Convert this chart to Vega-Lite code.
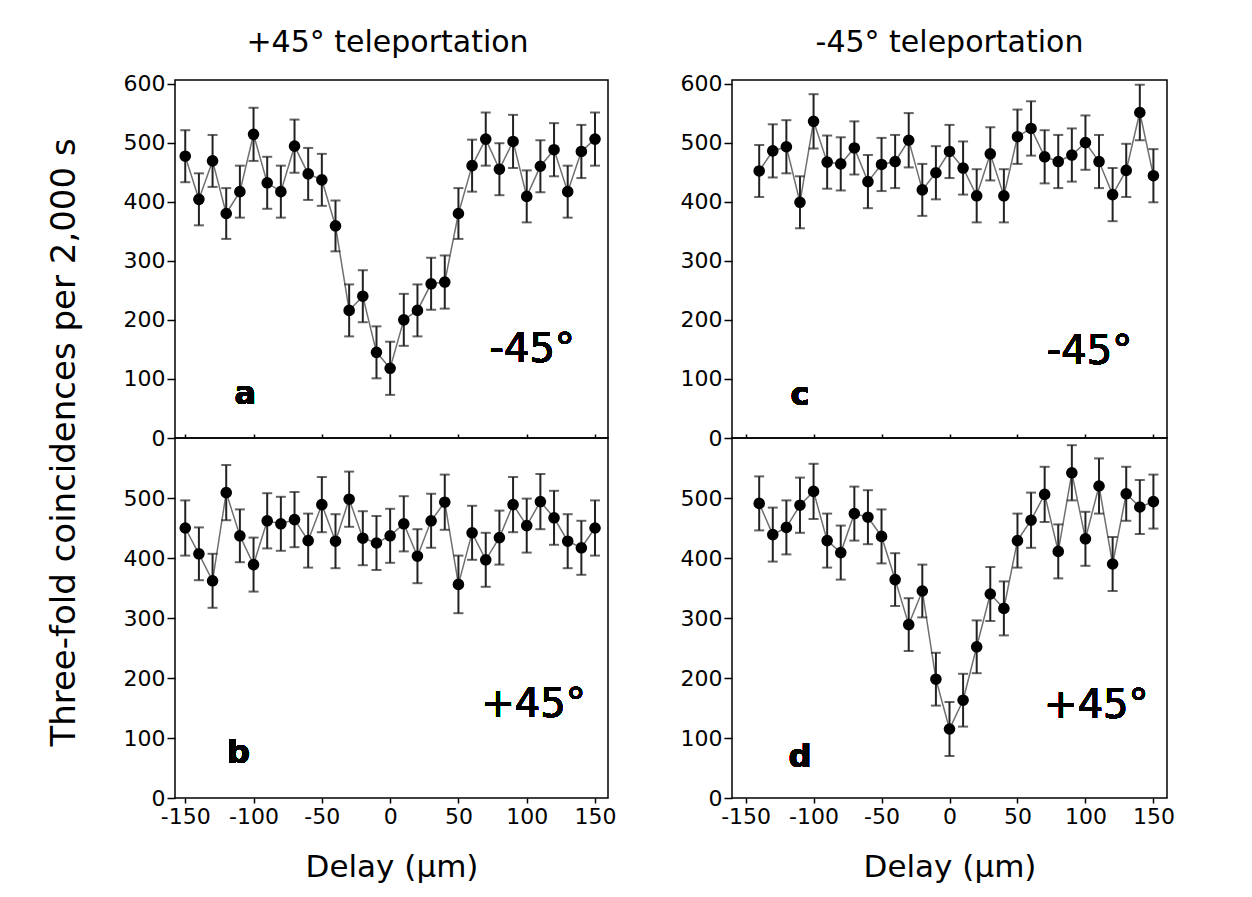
{
  "$schema": "https://vega.github.io/schema/vega-lite/v6.json",
  "background": "white",
  "padding": {"left": 46, "top": 26, "right": 10, "bottom": 10},
  "data": {"values": [
    {"panel":"a","delay":-150,"count":477,"err":44},{"panel":"a","delay":-140,"count":404,"err":44},{"panel":"a","delay":-130,"count":469,"err":44},{"panel":"a","delay":-120,"count":380,"err":43},{"panel":"a","delay":-110,"count":417,"err":44},{"panel":"a","delay":-100,"count":514,"err":45},{"panel":"a","delay":-90,"count":432,"err":44},{"panel":"a","delay":-80,"count":417,"err":44},{"panel":"a","delay":-70,"count":494,"err":45},{"panel":"a","delay":-60,"count":447,"err":44},{"panel":"a","delay":-50,"count":437,"err":44},{"panel":"a","delay":-40,"count":359,"err":43},{"panel":"a","delay":-30,"count":216,"err":44},{"panel":"a","delay":-20,"count":240,"err":44},{"panel":"a","delay":-10,"count":145,"err":44},{"panel":"a","delay":0,"count":118,"err":45},{"panel":"a","delay":10,"count":200,"err":44},{"panel":"a","delay":20,"count":216,"err":44},{"panel":"a","delay":30,"count":261,"err":44},{"panel":"a","delay":40,"count":264,"err":45},{"panel":"a","delay":50,"count":380,"err":43},{"panel":"a","delay":60,"count":461,"err":44},{"panel":"a","delay":70,"count":506,"err":45},{"panel":"a","delay":80,"count":455,"err":44},{"panel":"a","delay":90,"count":502,"err":45},{"panel":"a","delay":100,"count":409,"err":44},{"panel":"a","delay":110,"count":460,"err":44},{"panel":"a","delay":120,"count":488,"err":45},{"panel":"a","delay":130,"count":417,"err":44},{"panel":"a","delay":140,"count":485,"err":45},{"panel":"a","delay":150,"count":506,"err":45},
    {"panel":"b","delay":-150,"count":450,"err":46},{"panel":"b","delay":-140,"count":407,"err":44},{"panel":"b","delay":-130,"count":362,"err":45},{"panel":"b","delay":-120,"count":509,"err":46},{"panel":"b","delay":-110,"count":437,"err":44},{"panel":"b","delay":-100,"count":389,"err":45},{"panel":"b","delay":-90,"count":462,"err":46},{"panel":"b","delay":-80,"count":457,"err":45},{"panel":"b","delay":-70,"count":464,"err":46},{"panel":"b","delay":-60,"count":429,"err":45},{"panel":"b","delay":-50,"count":489,"err":46},{"panel":"b","delay":-40,"count":428,"err":45},{"panel":"b","delay":-30,"count":498,"err":46},{"panel":"b","delay":-20,"count":433,"err":45},{"panel":"b","delay":-10,"count":425,"err":45},{"panel":"b","delay":0,"count":437,"err":45},{"panel":"b","delay":10,"count":457,"err":46},{"panel":"b","delay":20,"count":403,"err":45},{"panel":"b","delay":30,"count":462,"err":45},{"panel":"b","delay":40,"count":493,"err":46},{"panel":"b","delay":50,"count":356,"err":48},{"panel":"b","delay":60,"count":442,"err":45},{"panel":"b","delay":70,"count":397,"err":45},{"panel":"b","delay":80,"count":434,"err":45},{"panel":"b","delay":90,"count":489,"err":46},{"panel":"b","delay":100,"count":454,"err":45},{"panel":"b","delay":110,"count":494,"err":46},{"panel":"b","delay":120,"count":467,"err":45},{"panel":"b","delay":130,"count":428,"err":45},{"panel":"b","delay":140,"count":417,"err":45},{"panel":"b","delay":150,"count":450,"err":46},
    {"panel":"c","delay":-140,"count":452,"err":44},{"panel":"c","delay":-130,"count":486,"err":45},{"panel":"c","delay":-120,"count":493,"err":45},{"panel":"c","delay":-110,"count":399,"err":44},{"panel":"c","delay":-100,"count":536,"err":46},{"panel":"c","delay":-90,"count":467,"err":45},{"panel":"c","delay":-80,"count":464,"err":45},{"panel":"c","delay":-70,"count":491,"err":45},{"panel":"c","delay":-60,"count":434,"err":45},{"panel":"c","delay":-50,"count":463,"err":45},{"panel":"c","delay":-40,"count":468,"err":45},{"panel":"c","delay":-30,"count":504,"err":46},{"panel":"c","delay":-20,"count":420,"err":44},{"panel":"c","delay":-10,"count":449,"err":45},{"panel":"c","delay":0,"count":485,"err":45},{"panel":"c","delay":10,"count":457,"err":45},{"panel":"c","delay":20,"count":410,"err":45},{"panel":"c","delay":30,"count":481,"err":45},{"panel":"c","delay":40,"count":410,"err":45},{"panel":"c","delay":50,"count":510,"err":46},{"panel":"c","delay":60,"count":524,"err":46},{"panel":"c","delay":70,"count":476,"err":45},{"panel":"c","delay":80,"count":468,"err":45},{"panel":"c","delay":90,"count":479,"err":45},{"panel":"c","delay":100,"count":500,"err":46},{"panel":"c","delay":110,"count":468,"err":45},{"panel":"c","delay":120,"count":412,"err":45},{"panel":"c","delay":130,"count":453,"err":45},{"panel":"c","delay":140,"count":551,"err":47},{"panel":"c","delay":150,"count":444,"err":45},
    {"panel":"d","delay":-140,"count":491,"err":45},{"panel":"d","delay":-130,"count":439,"err":45},{"panel":"d","delay":-120,"count":451,"err":45},{"panel":"d","delay":-110,"count":488,"err":46},{"panel":"d","delay":-100,"count":511,"err":46},{"panel":"d","delay":-90,"count":429,"err":45},{"panel":"d","delay":-80,"count":409,"err":45},{"panel":"d","delay":-70,"count":474,"err":45},{"panel":"d","delay":-60,"count":468,"err":45},{"panel":"d","delay":-50,"count":436,"err":45},{"panel":"d","delay":-40,"count":364,"err":44},{"panel":"d","delay":-30,"count":289,"err":44},{"panel":"d","delay":-20,"count":345,"err":44},{"panel":"d","delay":-10,"count":198,"err":44},{"panel":"d","delay":0,"count":115,"err":45},{"panel":"d","delay":10,"count":163,"err":44},{"panel":"d","delay":20,"count":252,"err":44},{"panel":"d","delay":30,"count":340,"err":45},{"panel":"d","delay":40,"count":316,"err":45},{"panel":"d","delay":50,"count":429,"err":45},{"panel":"d","delay":60,"count":463,"err":46},{"panel":"d","delay":70,"count":506,"err":46},{"panel":"d","delay":80,"count":411,"err":45},{"panel":"d","delay":90,"count":542,"err":46},{"panel":"d","delay":100,"count":432,"err":45},{"panel":"d","delay":110,"count":520,"err":46},{"panel":"d","delay":120,"count":390,"err":45},{"panel":"d","delay":130,"count":507,"err":45},{"panel":"d","delay":140,"count":485,"err":45},{"panel":"d","delay":150,"count":494,"err":45}
  ]},
  "spacing": 62,
  "hconcat": [
    {
      "spacing": 0,
      "bounds": "flush",
      "vconcat": [
        {
          "width": 433, "height": 358,
          "title": {"text": "+45° teleportation", "anchor": "middle", "frame": "group", "font": "DejaVu Sans", "fontSize": 30, "fontWeight": "normal", "color": "black", "offset": 15, "dx": -4},
          "transform": [{"filter": "datum.panel == 'a'"}],
          "encoding": {
            "x": {"field": "delay", "type": "quantitative", "scale": {"domain": [-157.5, 159.5], "nice": false, "zero": false}, "axis": {"values": [-150, -100, -50, 0, 50, 100, 150], "labels": false, "tickSize": -4, "title": null}},
            "y": {"field": "count", "type": "quantitative", "scale": {"domain": [0, 606], "nice": false}, "axis": {"values": [0, 100, 200, 300, 400, 500, 600], "tickSize": 8, "labelPadding": 2, "title": "Three-fold coincidences per 2,000 s", "titleFontSize": 34, "titleY": 362, "titlePadding": 42}}
          },
          "layer": [
            {"mark": {"type": "line", "color": "#707070", "strokeWidth": 1.5}},
            {"mark": {"type": "errorbar", "color": "#222222", "thickness": 2, "ticks": {"size": 10, "thickness": 2}}, "encoding": {"yError": {"field": "err"}}},
            {"mark": {"type": "point", "filled": true, "shape": "circle", "color": "black", "opacity": 1, "size": 135}},
            {"mark": {"type": "text", "font": "DejaVu Sans", "fontSize": 40, "align": "center", "baseline": "middle", "color": "black"}, "encoding": {"x": {"datum": 104}, "y": {"datum": 149}, "text": {"value": "-45°"}}},
            {"mark": {"type": "text", "font": "DejaVu Sans", "fontWeight": "bold", "fontSize": 32, "align": "center", "baseline": "alphabetic", "color": "black"}, "encoding": {"x": {"datum": -106}, "y": {"datum": 57}, "text": {"value": "a"}}}
          ]
        },
        {
          "width": 433, "height": 360,
          "transform": [{"filter": "datum.panel == 'b'"}],
          "encoding": {
            "x": {"field": "delay", "type": "quantitative", "scale": {"domain": [-157.5, 159.5], "nice": false, "zero": false}, "axis": {"values": [-150, -100, -50, 0, 50, 100, 150], "labelExpr": "'' + datum.value", "tickSize": 5, "labelPadding": 3, "labelFlush": false, "title": "Delay (μm)", "titlePadding": 25}},
            "y": {"field": "count", "type": "quantitative", "scale": {"domain": [0, 600], "nice": false}, "axis": {"values": [0, 100, 200, 300, 400, 500], "tickSize": 8, "labelPadding": 2, "title": null}}
          },
          "layer": [
            {"mark": {"type": "line", "color": "#707070", "strokeWidth": 1.5}},
            {"mark": {"type": "errorbar", "color": "#222222", "thickness": 2, "ticks": {"size": 10, "thickness": 2}}, "encoding": {"yError": {"field": "err"}}},
            {"mark": {"type": "point", "filled": true, "shape": "circle", "color": "black", "opacity": 1, "size": 135}},
            {"mark": {"type": "text", "font": "DejaVu Sans", "fontSize": 40, "align": "center", "baseline": "middle", "color": "black"}, "encoding": {"x": {"datum": 105}, "y": {"datum": 155}, "text": {"value": "+45°"}}},
            {"mark": {"type": "text", "font": "DejaVu Sans", "fontWeight": "bold", "fontSize": 32, "align": "center", "baseline": "alphabetic", "color": "black"}, "encoding": {"x": {"datum": -111}, "y": {"datum": 58}, "text": {"value": "b"}}}
          ]
        }
      ]
    },
    {
      "spacing": 0,
      "bounds": "flush",
      "vconcat": [
        {
          "width": 435, "height": 358,
          "title": {"text": "-45° teleportation", "anchor": "middle", "frame": "group", "font": "DejaVu Sans", "fontSize": 30, "fontWeight": "normal", "color": "black", "offset": 15},
          "transform": [{"filter": "datum.panel == 'c'"}],
          "encoding": {
            "x": {"field": "delay", "type": "quantitative", "scale": {"domain": [-160, 160], "nice": false, "zero": false}, "axis": {"values": [-150, -100, -50, 0, 50, 100, 150], "labels": false, "tickSize": -4, "title": null}},
            "y": {"field": "count", "type": "quantitative", "scale": {"domain": [0, 606], "nice": false}, "axis": {"values": [0, 100, 200, 300, 400, 500, 600], "tickSize": 8, "labelPadding": 2, "title": null}}
          },
          "layer": [
            {"mark": {"type": "line", "color": "#707070", "strokeWidth": 1.5}},
            {"mark": {"type": "errorbar", "color": "#222222", "thickness": 2, "ticks": {"size": 10, "thickness": 2}}, "encoding": {"yError": {"field": "err"}}},
            {"mark": {"type": "point", "filled": true, "shape": "circle", "color": "black", "opacity": 1, "size": 135}},
            {"mark": {"type": "text", "font": "DejaVu Sans", "fontSize": 40, "align": "center", "baseline": "middle", "color": "black"}, "encoding": {"x": {"datum": 103}, "y": {"datum": 146}, "text": {"value": "-45°"}}},
            {"mark": {"type": "text", "font": "DejaVu Sans", "fontWeight": "bold", "fontSize": 32, "align": "center", "baseline": "alphabetic", "color": "black"}, "encoding": {"x": {"datum": -110}, "y": {"datum": 56}, "text": {"value": "c"}}}
          ]
        },
        {
          "width": 435, "height": 360,
          "transform": [{"filter": "datum.panel == 'd'"}],
          "encoding": {
            "x": {"field": "delay", "type": "quantitative", "scale": {"domain": [-160, 160], "nice": false, "zero": false}, "axis": {"values": [-150, -100, -50, 0, 50, 100, 150], "labelExpr": "'' + datum.value", "tickSize": 5, "labelPadding": 3, "labelFlush": false, "title": "Delay (μm)", "titlePadding": 25}},
            "y": {"field": "count", "type": "quantitative", "scale": {"domain": [0, 600], "nice": false}, "axis": {"values": [0, 100, 200, 300, 400, 500], "tickSize": 8, "labelPadding": 2, "title": null}}
          },
          "layer": [
            {"mark": {"type": "line", "color": "#707070", "strokeWidth": 1.5}},
            {"mark": {"type": "errorbar", "color": "#222222", "thickness": 2, "ticks": {"size": 10, "thickness": 2}}, "encoding": {"yError": {"field": "err"}}},
            {"mark": {"type": "point", "filled": true, "shape": "circle", "color": "black", "opacity": 1, "size": 135}},
            {"mark": {"type": "text", "font": "DejaVu Sans", "fontSize": 40, "align": "center", "baseline": "middle", "color": "black"}, "encoding": {"x": {"datum": 108}, "y": {"datum": 153}, "text": {"value": "+45°"}}},
            {"mark": {"type": "text", "font": "DejaVu Sans", "fontWeight": "bold", "fontSize": 32, "align": "center", "baseline": "alphabetic", "color": "black"}, "encoding": {"x": {"datum": -110}, "y": {"datum": 52}, "text": {"value": "d"}}}
          ]
        }
      ]
    }
  ],
  "config": {
    "view": {"stroke": "black", "strokeWidth": 1.5},
    "axis": {"domain": false, "grid": false, "tickColor": "black", "tickWidth": 1.5, "labelColor": "black", "labelFont": "DejaVu Sans", "labelFontSize": 22, "titleFont": "DejaVu Sans", "titleFontSize": 31, "titleFontWeight": "normal", "titleColor": "black"}
  }
}
